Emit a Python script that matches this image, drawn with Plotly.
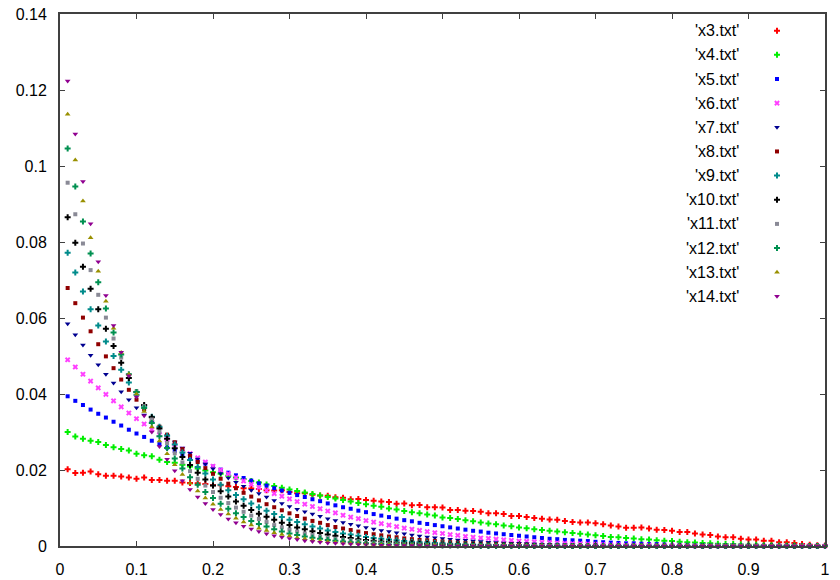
import plotly.graph_objects as go

# bin centres shared by every file
x = [0.01, 0.02, 0.03, 0.04, 0.05, 0.06, 0.07, 0.08, 0.09, 0.10,
     0.11, 0.12, 0.13, 0.14, 0.15, 0.16, 0.17, 0.18, 0.19, 0.20,
     0.21, 0.22, 0.23, 0.24, 0.25, 0.26, 0.27, 0.28, 0.29, 0.30,
     0.31, 0.32, 0.33, 0.34, 0.35, 0.36, 0.37, 0.38, 0.39, 0.40,
     0.41, 0.42, 0.43, 0.44, 0.45, 0.46, 0.47, 0.48, 0.49, 0.50,
     0.51, 0.52, 0.53, 0.54, 0.55, 0.56, 0.57, 0.58, 0.59, 0.60,
     0.61, 0.62, 0.63, 0.64, 0.65, 0.66, 0.67, 0.68, 0.69, 0.70,
     0.71, 0.72, 0.73, 0.74, 0.75, 0.76, 0.77, 0.78, 0.79, 0.80,
     0.81, 0.82, 0.83, 0.84, 0.85, 0.86, 0.87, 0.88, 0.89, 0.90,
     0.91, 0.92, 0.93, 0.94, 0.95, 0.96, 0.97, 0.98, 0.99, 1.00]

x3 = [0.0202, 0.0192, 0.0193, 0.0196, 0.0189, 0.0185, 0.0185, 0.0183, 0.0180, 0.0177,
      0.0180, 0.0174, 0.0174, 0.0172, 0.0172, 0.0167, 0.0166, 0.0165, 0.0163, 0.0160,
      0.0160, 0.0157, 0.0155, 0.0152, 0.0151, 0.0150, 0.0147, 0.0146, 0.0147, 0.0142,
      0.0139, 0.0139, 0.0135, 0.0133, 0.0132, 0.0128, 0.0127, 0.0123, 0.0124, 0.0121,
      0.0119, 0.0117, 0.0116, 0.0111, 0.0112, 0.0107, 0.0108, 0.0102, 0.0102, 0.0101,
      0.0095, 0.0095, 0.0093, 0.0092, 0.0090, 0.0086, 0.0086, 0.0084, 0.0079, 0.0079,
      0.0076, 0.0074, 0.0072, 0.0070, 0.0069, 0.0066, 0.0063, 0.0062, 0.0062, 0.0060,
      0.0057, 0.0054, 0.0051, 0.0048, 0.0048, 0.0049, 0.0046, 0.0043, 0.0042, 0.0040,
      0.0037, 0.0037, 0.0033, 0.0030, 0.0029, 0.0025, 0.0023, 0.0023, 0.0019, 0.0017,
      0.0017, 0.0014, 0.0014, 0.0010, 0.0010, 0.0008, 0.0005, 0.0003, 0.0002, 0.0001]

x4 = [0.0300, 0.0288, 0.0282, 0.0277, 0.0274, 0.0266, 0.0260, 0.0255, 0.0251, 0.0243,
      0.0239, 0.0236, 0.0227, 0.0221, 0.0219, 0.0214, 0.0209, 0.0204, 0.0199, 0.0194,
      0.0190, 0.0185, 0.0180, 0.0176, 0.0171, 0.0167, 0.0162, 0.0158, 0.0153, 0.0149,
      0.0145, 0.0141, 0.0137, 0.0133, 0.0129, 0.0125, 0.0121, 0.0117, 0.0113, 0.0110,
      0.0106, 0.0103, 0.0099, 0.0096, 0.0092, 0.0089, 0.0086, 0.0083, 0.0080, 0.0075,
      0.0074, 0.0071, 0.0068, 0.0065, 0.0062, 0.0059, 0.0057, 0.0054, 0.0052, 0.0049,
      0.0047, 0.0044, 0.0042, 0.0040, 0.0038, 0.0036, 0.0034, 0.0032, 0.0030, 0.0028,
      0.0026, 0.0024, 0.0023, 0.0021, 0.0020, 0.0018, 0.0017, 0.0015, 0.0014, 0.0013,
      0.0011, 0.0010, 0.0009, 0.0008, 0.0007, 0.0006, 0.0005, 0.0005, 0.0004, 0.0003,
      0.0003, 0.0002, 0.0002, 0.0001, 0.0001, 0.0001, 0.0000, 0.0000, 0.0000, 0.0000]

x5 = [0.0394, 0.0382, 0.0371, 0.0359, 0.0348, 0.0338, 0.0327, 0.0317, 0.0306, 0.0296,
      0.0287, 0.0277, 0.0268, 0.0259, 0.0250, 0.0241, 0.0233, 0.0225, 0.0217, 0.0209,
      0.0201, 0.0193, 0.0186, 0.0179, 0.0172, 0.0165, 0.0159, 0.0152, 0.0146, 0.0140,
      0.0134, 0.0129, 0.0123, 0.0118, 0.0112, 0.0107, 0.0102, 0.0098, 0.0093, 0.0089,
      0.0084, 0.0080, 0.0076, 0.0072, 0.0068, 0.0065, 0.0061, 0.0058, 0.0055, 0.0052,
      0.0049, 0.0046, 0.0043, 0.0040, 0.0038, 0.0035, 0.0033, 0.0031, 0.0029, 0.0027,
      0.0025, 0.0023, 0.0021, 0.0019, 0.0018, 0.0016, 0.0015, 0.0014, 0.0013, 0.0011,
      0.0010, 0.0009, 0.0008, 0.0007, 0.0007, 0.0006, 0.0005, 0.0005, 0.0004, 0.0003,
      0.0003, 0.0003, 0.0002, 0.0002, 0.0001, 0.0001, 0.0001, 0.0001, 0.0001, 0.0000,
      0.0000, 0.0000, 0.0000, 0.0000, 0.0000, 0.0000, 0.0000, 0.0000, 0.0000, 0.0000]

x6 = [0.0490, 0.0471, 0.0452, 0.0434, 0.0416, 0.0399, 0.0382, 0.0366, 0.0350, 0.0335,
      0.0321, 0.0307, 0.0293, 0.0280, 0.0267, 0.0255, 0.0243, 0.0232, 0.0221, 0.0210,
      0.0200, 0.0190, 0.0180, 0.0171, 0.0162, 0.0154, 0.0146, 0.0138, 0.0131, 0.0124,
      0.0117, 0.0110, 0.0104, 0.0098, 0.0092, 0.0087, 0.0081, 0.0076, 0.0072, 0.0067,
      0.0063, 0.0059, 0.0055, 0.0051, 0.0047, 0.0044, 0.0041, 0.0038, 0.0035, 0.0033,
      0.0030, 0.0028, 0.0025, 0.0023, 0.0021, 0.0020, 0.0018, 0.0016, 0.0015, 0.0013,
      0.0012, 0.0011, 0.0010, 0.0009, 0.0008, 0.0007, 0.0006, 0.0006, 0.0005, 0.0004,
      0.0004, 0.0003, 0.0003, 0.0002, 0.0002, 0.0002, 0.0002, 0.0001, 0.0001, 0.0001,
      0.0001, 0.0001, 0.0000, 0.0000, 0.0000, 0.0000, 0.0000, 0.0000, 0.0000, 0.0000,
      0.0000, 0.0000, 0.0000, 0.0000, 0.0000, 0.0000, 0.0000, 0.0000, 0.0000, 0.0000]

x7 = [0.0585, 0.0556, 0.0529, 0.0502, 0.0477, 0.0452, 0.0429, 0.0406, 0.0385, 0.0364,
      0.0345, 0.0326, 0.0308, 0.0291, 0.0274, 0.0258, 0.0244, 0.0229, 0.0216, 0.0203,
      0.0191, 0.0179, 0.0168, 0.0157, 0.0147, 0.0138, 0.0129, 0.0120, 0.0112, 0.0104,
      0.0097, 0.0090, 0.0084, 0.0078, 0.0072, 0.0067, 0.0062, 0.0057, 0.0053, 0.0049,
      0.0045, 0.0041, 0.0038, 0.0035, 0.0032, 0.0029, 0.0026, 0.0024, 0.0022, 0.0020,
      0.0018, 0.0016, 0.0015, 0.0013, 0.0012, 0.0010, 0.0009, 0.0008, 0.0007, 0.0007,
      0.0006, 0.0005, 0.0004, 0.0004, 0.0003, 0.0003, 0.0003, 0.0002, 0.0002, 0.0002,
      0.0001, 0.0001, 0.0001, 0.0001, 0.0001, 0.0000, 0.0000, 0.0000, 0.0000, 0.0000,
      0.0000, 0.0000, 0.0000, 0.0000, 0.0000, 0.0000, 0.0000, 0.0000, 0.0000, 0.0000,
      0.0000, 0.0000, 0.0000, 0.0000, 0.0000, 0.0000, 0.0000, 0.0000, 0.0000, 0.0000]

x8 = [0.0679, 0.0639, 0.0601, 0.0565, 0.0531, 0.0499, 0.0468, 0.0438, 0.0411, 0.0385,
      0.0360, 0.0336, 0.0314, 0.0293, 0.0273, 0.0255, 0.0237, 0.0221, 0.0205, 0.0190,
      0.0177, 0.0164, 0.0152, 0.0140, 0.0130, 0.0120, 0.0110, 0.0102, 0.0094, 0.0086,
      0.0079, 0.0072, 0.0066, 0.0061, 0.0055, 0.0050, 0.0046, 0.0042, 0.0038, 0.0034,
      0.0031, 0.0028, 0.0025, 0.0023, 0.0020, 0.0018, 0.0016, 0.0015, 0.0013, 0.0012,
      0.0010, 0.0009, 0.0008, 0.0007, 0.0006, 0.0005, 0.0005, 0.0004, 0.0004, 0.0003,
      0.0003, 0.0002, 0.0002, 0.0002, 0.0001, 0.0001, 0.0001, 0.0001, 0.0001, 0.0001,
      0.0000, 0.0000, 0.0000, 0.0000, 0.0000, 0.0000, 0.0000, 0.0000, 0.0000, 0.0000,
      0.0000, 0.0000, 0.0000, 0.0000, 0.0000, 0.0000, 0.0000, 0.0000, 0.0000, 0.0000,
      0.0000, 0.0000, 0.0000, 0.0000, 0.0000, 0.0000, 0.0000, 0.0000, 0.0000, 0.0000]

x9 = [0.0772, 0.0720, 0.0670, 0.0623, 0.0580, 0.0538, 0.0500, 0.0464, 0.0430, 0.0398,
      0.0368, 0.0340, 0.0314, 0.0290, 0.0267, 0.0246, 0.0226, 0.0208, 0.0191, 0.0175,
      0.0161, 0.0147, 0.0134, 0.0123, 0.0112, 0.0102, 0.0093, 0.0084, 0.0076, 0.0069,
      0.0063, 0.0057, 0.0051, 0.0046, 0.0041, 0.0037, 0.0033, 0.0030, 0.0027, 0.0024,
      0.0021, 0.0019, 0.0017, 0.0015, 0.0013, 0.0011, 0.0010, 0.0009, 0.0008, 0.0007,
      0.0006, 0.0005, 0.0004, 0.0004, 0.0003, 0.0003, 0.0002, 0.0002, 0.0002, 0.0001,
      0.0001, 0.0001, 0.0001, 0.0001, 0.0001, 0.0000, 0.0000, 0.0000, 0.0000, 0.0000,
      0.0000, 0.0000, 0.0000, 0.0000, 0.0000, 0.0000, 0.0000, 0.0000, 0.0000, 0.0000,
      0.0000, 0.0000, 0.0000, 0.0000, 0.0000, 0.0000, 0.0000, 0.0000, 0.0000, 0.0000,
      0.0000, 0.0000, 0.0000, 0.0000, 0.0000, 0.0000, 0.0000, 0.0000, 0.0000, 0.0000]

x10 = [0.0865, 0.0798, 0.0735, 0.0677, 0.0623, 0.0572, 0.0526, 0.0482, 0.0442, 0.0405,
       0.0371, 0.0339, 0.0309, 0.0282, 0.0257, 0.0234, 0.0213, 0.0193, 0.0175, 0.0159,
       0.0144, 0.0130, 0.0117, 0.0106, 0.0095, 0.0085, 0.0077, 0.0069, 0.0061, 0.0055,
       0.0049, 0.0044, 0.0039, 0.0034, 0.0030, 0.0027, 0.0024, 0.0021, 0.0018, 0.0016,
       0.0014, 0.0012, 0.0011, 0.0009, 0.0008, 0.0007, 0.0006, 0.0005, 0.0004, 0.0004,
       0.0003, 0.0003, 0.0002, 0.0002, 0.0002, 0.0001, 0.0001, 0.0001, 0.0001, 0.0001,
       0.0001, 0.0000, 0.0000, 0.0000, 0.0000, 0.0000, 0.0000, 0.0000, 0.0000, 0.0000,
       0.0000, 0.0000, 0.0000, 0.0000, 0.0000, 0.0000, 0.0000, 0.0000, 0.0000, 0.0000,
       0.0000, 0.0000, 0.0000, 0.0000, 0.0000, 0.0000, 0.0000, 0.0000, 0.0000, 0.0000,
       0.0000, 0.0000, 0.0000, 0.0000, 0.0000, 0.0000, 0.0000, 0.0000, 0.0000, 0.0000]

x11 = [0.0956, 0.0873, 0.0796, 0.0726, 0.0661, 0.0601, 0.0546, 0.0496, 0.0450, 0.0407,
       0.0368, 0.0333, 0.0301, 0.0271, 0.0244, 0.0220, 0.0197, 0.0177, 0.0159, 0.0142,
       0.0127, 0.0113, 0.0101, 0.0090, 0.0080, 0.0071, 0.0063, 0.0055, 0.0049, 0.0043,
       0.0038, 0.0033, 0.0029, 0.0025, 0.0022, 0.0019, 0.0017, 0.0015, 0.0013, 0.0011,
       0.0009, 0.0008, 0.0007, 0.0006, 0.0005, 0.0004, 0.0004, 0.0003, 0.0003, 0.0002,
       0.0002, 0.0001, 0.0001, 0.0001, 0.0001, 0.0001, 0.0001, 0.0000, 0.0000, 0.0000,
       0.0000, 0.0000, 0.0000, 0.0000, 0.0000, 0.0000, 0.0000, 0.0000, 0.0000, 0.0000,
       0.0000, 0.0000, 0.0000, 0.0000, 0.0000, 0.0000, 0.0000, 0.0000, 0.0000, 0.0000,
       0.0000, 0.0000, 0.0000, 0.0000, 0.0000, 0.0000, 0.0000, 0.0000, 0.0000, 0.0000,
       0.0000, 0.0000, 0.0000, 0.0000, 0.0000, 0.0000, 0.0000, 0.0000, 0.0000, 0.0000]

x12 = [0.1046, 0.0946, 0.0854, 0.0770, 0.0694, 0.0625, 0.0562, 0.0504, 0.0452, 0.0405,
       0.0363, 0.0324, 0.0289, 0.0258, 0.0230, 0.0204, 0.0181, 0.0161, 0.0142, 0.0126,
       0.0111, 0.0098, 0.0086, 0.0076, 0.0066, 0.0058, 0.0051, 0.0044, 0.0038, 0.0033,
       0.0029, 0.0025, 0.0022, 0.0019, 0.0016, 0.0014, 0.0012, 0.0010, 0.0009, 0.0007,
       0.0006, 0.0005, 0.0004, 0.0004, 0.0003, 0.0003, 0.0002, 0.0002, 0.0001, 0.0001,
       0.0001, 0.0001, 0.0001, 0.0000, 0.0000, 0.0000, 0.0000, 0.0000, 0.0000, 0.0000,
       0.0000, 0.0000, 0.0000, 0.0000, 0.0000, 0.0000, 0.0000, 0.0000, 0.0000, 0.0000,
       0.0000, 0.0000, 0.0000, 0.0000, 0.0000, 0.0000, 0.0000, 0.0000, 0.0000, 0.0000,
       0.0000, 0.0000, 0.0000, 0.0000, 0.0000, 0.0000, 0.0000, 0.0000, 0.0000, 0.0000,
       0.0000, 0.0000, 0.0000, 0.0000, 0.0000, 0.0000, 0.0000, 0.0000, 0.0000, 0.0000]

x13 = [0.1136, 0.1016, 0.0908, 0.0811, 0.0723, 0.0644, 0.0573, 0.0509, 0.0452, 0.0400,
       0.0354, 0.0313, 0.0276, 0.0243, 0.0214, 0.0188, 0.0165, 0.0145, 0.0126, 0.0110,
       0.0096, 0.0084, 0.0073, 0.0063, 0.0055, 0.0047, 0.0041, 0.0035, 0.0030, 0.0026,
       0.0022, 0.0019, 0.0016, 0.0013, 0.0011, 0.0010, 0.0008, 0.0007, 0.0006, 0.0005,
       0.0004, 0.0003, 0.0003, 0.0002, 0.0002, 0.0002, 0.0001, 0.0001, 0.0001, 0.0001,
       0.0000, 0.0000, 0.0000, 0.0000, 0.0000, 0.0000, 0.0000, 0.0000, 0.0000, 0.0000,
       0.0000, 0.0000, 0.0000, 0.0000, 0.0000, 0.0000, 0.0000, 0.0000, 0.0000, 0.0000,
       0.0000, 0.0000, 0.0000, 0.0000, 0.0000, 0.0000, 0.0000, 0.0000, 0.0000, 0.0000,
       0.0000, 0.0000, 0.0000, 0.0000, 0.0000, 0.0000, 0.0000, 0.0000, 0.0000, 0.0000,
       0.0000, 0.0000, 0.0000, 0.0000, 0.0000, 0.0000, 0.0000, 0.0000, 0.0000, 0.0000]

x14 = [0.1224, 0.1084, 0.0959, 0.0848, 0.0748, 0.0659, 0.0580, 0.0510, 0.0448, 0.0392,
       0.0343, 0.0300, 0.0262, 0.0228, 0.0198, 0.0172, 0.0149, 0.0129, 0.0112, 0.0096,
       0.0083, 0.0071, 0.0061, 0.0052, 0.0045, 0.0038, 0.0032, 0.0027, 0.0023, 0.0020,
       0.0017, 0.0014, 0.0012, 0.0010, 0.0008, 0.0007, 0.0006, 0.0005, 0.0004, 0.0003,
       0.0003, 0.0002, 0.0002, 0.0001, 0.0001, 0.0001, 0.0001, 0.0000, 0.0000, 0.0000,
       0.0000, 0.0000, 0.0000, 0.0000, 0.0000, 0.0000, 0.0000, 0.0000, 0.0000, 0.0000,
       0.0000, 0.0000, 0.0000, 0.0000, 0.0000, 0.0000, 0.0000, 0.0000, 0.0000, 0.0000,
       0.0000, 0.0000, 0.0000, 0.0000, 0.0000, 0.0000, 0.0000, 0.0000, 0.0000, 0.0000,
       0.0000, 0.0000, 0.0000, 0.0000, 0.0000, 0.0000, 0.0000, 0.0000, 0.0000, 0.0000,
       0.0000, 0.0000, 0.0000, 0.0000, 0.0000, 0.0000, 0.0000, 0.0000, 0.0000, 0.0000]

names = ["'x3.txt'", "'x4.txt'", "'x5.txt'", "'x6.txt'", "'x7.txt'", "'x8.txt'",
         "'x9.txt'", "'x10.txt'", "'x11.txt'", "'x12.txt'", "'x13.txt'", "'x14.txt'"]
series = [x3, x4, x5, x6, x7, x8, x9, x10, x11, x12, x13, x14]

# point style per file: (colour, symbol, size, outline width)
styles = [
    ("#ff0000", "cross", 5, 0),
    ("#00ee00", "cross", 5, 0),
    ("#0000ff", "square", 4, 0),
    ("#ff40ff", "x", 5, 0),
    ("#000090", "triangle-down", 5, 0),
    ("#900000", "square", 4, 0),
    ("#008b8b", "cross", 5, 0),
    ("#000000", "cross", 5, 0),
    ("#8a8a96", "square", 4, 0),
    ("#009050", "cross", 5, 0),
    ("#999000", "triangle-up", 5, 0),
    ("#900090", "triangle-down", 5, 0),
]

FONT = "Liberation Sans, Arial, sans-serif"
FRAME = "#404040"

L, R, T, B = 60, 15, 14, 34
W, H = 840, 580

fig = go.Figure()

for name, ys, (col, sym, sz, lw) in zip(names, series, styles):
    fig.add_trace(go.Scatter(
        x=x, y=ys, mode="markers", name=name, showlegend=False,
        cliponaxis=False,
        marker=dict(symbol=sym, size=sz, color=col, line=dict(color=col, width=lw)),
    ))

# key: label right-aligned, sample point to its right (pixel-space overlay axes)
key_text_x = 741
key_mark_x = 777
key_top = 30.7
key_step = 24.15
for i, (name, (col, sym, sz, lw)) in enumerate(zip(names, styles)):
    ky = key_top + i * key_step
    fig.add_trace(go.Scatter(
        x=[key_mark_x], y=[ky], xaxis="x2", yaxis="y2", mode="markers",
        showlegend=False, hoverinfo="skip", cliponaxis=False,
        marker=dict(symbol=sym, size=sz, color=col, line=dict(color=col, width=lw)),
    ))
    fig.add_annotation(x=key_text_x, y=ky, xref="x2", yref="y2", text=name,
                       showarrow=False, xanchor="right", yanchor="middle",
                       font=dict(family=FONT, size=16, color="#000000"))

axis_common = dict(
    showline=True, linecolor=FRAME, linewidth=2, mirror="ticks",
    ticks="inside", ticklen=5, tickwidth=1, tickcolor=FRAME,
    showgrid=False, zeroline=False, automargin=False,
    tickfont=dict(family=FONT, size=16, color="#000000"),
)

fig.update_layout(
    width=W, height=H,
    margin=dict(l=L, r=R, t=T, b=B, pad=0),
    paper_bgcolor="white", plot_bgcolor="white",
    showlegend=False,
    xaxis=dict(range=[0, 1], tick0=0, dtick=0.1, ticklabelstandoff=8, **axis_common),
    yaxis=dict(range=[0, 0.14], tick0=0, dtick=0.02, ticklabelstandoff=8, **axis_common),
    xaxis2=dict(overlaying="x", range=[L, W - R], visible=False, fixedrange=True),
    yaxis2=dict(overlaying="y", range=[H - B, T], visible=False, fixedrange=True),
)

fig.write_html("out.html")
